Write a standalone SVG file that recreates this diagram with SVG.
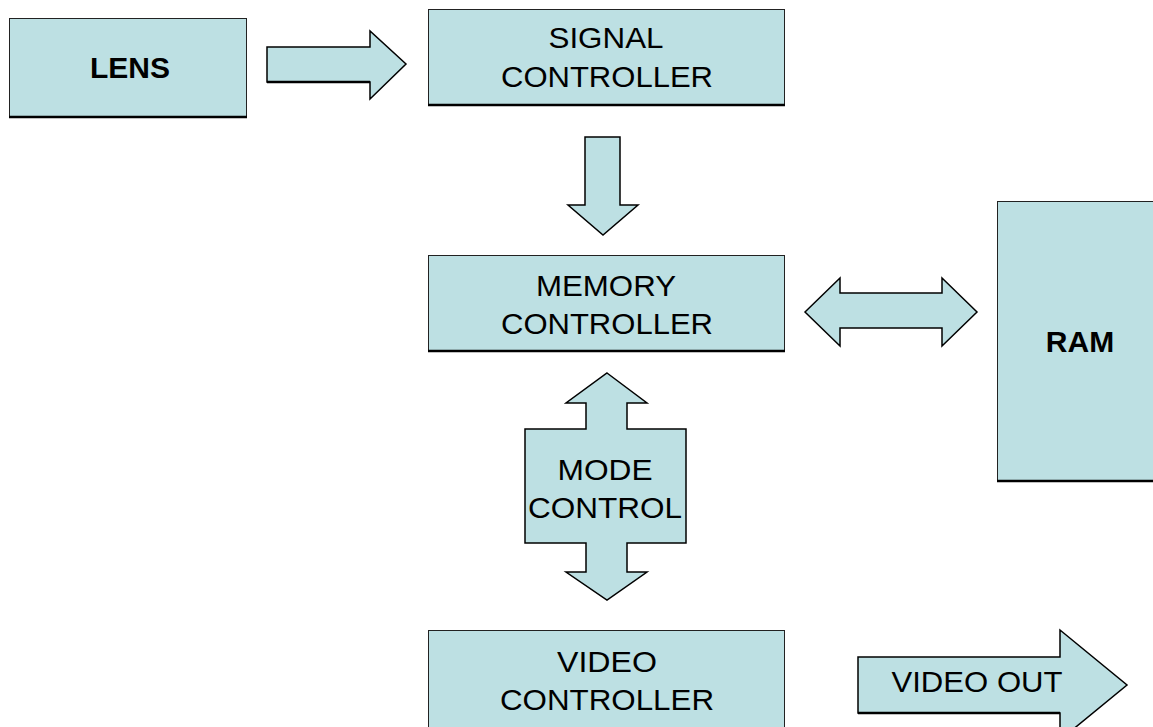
<svg xmlns="http://www.w3.org/2000/svg" width="1153" height="727" viewBox="0 0 1153 727">
<style>
.box{fill:#BDE0E3;stroke:#222;stroke-width:1}
.arr{fill:#BDE0E3;stroke:#000;stroke-width:1.5;stroke-linejoin:miter}
.sh{stroke:#000;stroke-width:2.5}
.t{font-family:"Liberation Sans",Arial,sans-serif;font-size:30px;fill:#000;text-anchor:middle}
.b{font-weight:bold;font-size:30px}
</style>
<rect width="1153" height="727" fill="#fff"/>
<g id="lens">
<rect class="box" x="9.5" y="18.5" width="237" height="99"/>
<line class="sh" x1="9" y1="117" x2="247" y2="117"/>
<text class="t b" x="130" y="78">LENS</text>
</g>
<g id="signal-controller">
<rect class="box" x="428.5" y="9.5" width="356" height="96"/>
<line class="sh" x1="428" y1="105" x2="785" y2="105"/>
<text class="t" x="606" y="48" textLength="115" lengthAdjust="spacingAndGlyphs">SIGNAL</text>
<text class="t" x="607" y="87" textLength="212" lengthAdjust="spacingAndGlyphs">CONTROLLER</text>
</g>
<g id="memory-controller">
<rect class="box" x="428.5" y="255.5" width="356" height="96"/>
<line class="sh" x1="428" y1="351" x2="785" y2="351"/>
<text class="t" x="606" y="296" textLength="140" lengthAdjust="spacingAndGlyphs">MEMORY</text>
<text class="t" x="607" y="334" textLength="212" lengthAdjust="spacingAndGlyphs">CONTROLLER</text>
</g>
<g id="ram">
<rect class="box" x="997.5" y="201.5" width="160" height="280"/>
<line class="sh" x1="997" y1="481" x2="1153" y2="481"/>
<text class="t b" x="1080" y="352">RAM</text>
</g>
<g id="mode-control">
<path class="arr" d="M607,373 L647,403 L627,403 L627,429 L686,429 L686,543 L627,543 L627,572 L647,572 L607,600 L566,572 L586,572 L586,543 L525,543 L525,429 L586,429 L586,403 L566,403 Z"/>
<text class="t" x="605" y="480" textLength="95" lengthAdjust="spacingAndGlyphs">MODE</text>
<text class="t" x="605" y="518" textLength="154" lengthAdjust="spacingAndGlyphs">CONTROL</text>
</g>
<g id="video-controller">
<rect class="box" x="428.5" y="630.5" width="356" height="110"/>
<text class="t" x="607" y="672" textLength="100" lengthAdjust="spacingAndGlyphs">VIDEO</text>
<text class="t" x="607" y="710" textLength="214" lengthAdjust="spacingAndGlyphs">CONTROLLER</text>
</g>
<g id="connectors">
<g id="lens-to-signal">
<path class="arr" d="M267,47 L370,47 L370,31 L406,64 L370,99 L370,82 L267,82 Z"/>
<line class="sh" x1="267" y1="82" x2="370" y2="82"/>
</g>
<g id="signal-to-memory">
<path class="arr" d="M585,137 L620,137 L620,205 L638,205 L603,235 L568,205 L585,205 Z"/>
</g>
<g id="memory-ram">
<path class="arr" d="M805,312 L840,278 L840,293 L942,293 L942,278 L977,312 L942,346 L942,328 L840,328 L840,346 Z"/>
</g>
<g id="video-out">
<path class="arr" d="M858,657 L1060,657 L1060,630 L1127,685 L1060,740 L1060,713 L858,713 Z"/>
<line class="sh" x1="858" y1="713" x2="1060" y2="713"/>
<text class="t" x="977" y="692" textLength="171" lengthAdjust="spacingAndGlyphs">VIDEO OUT</text>
</g>
</g>
</svg>
